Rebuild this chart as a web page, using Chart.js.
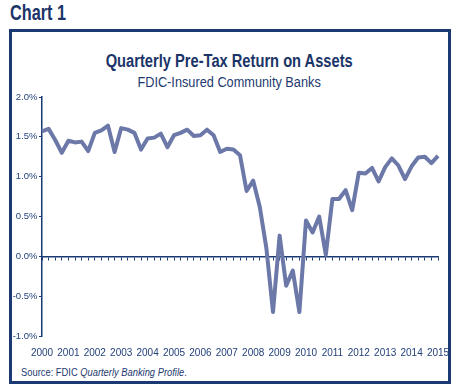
<!DOCTYPE html>
<html>
<head>
<meta charset="utf-8">
<script src="https://cdn.jsdelivr.net/npm/chart.js@4.4.0/dist/chart.umd.min.js"></script>
<style>
  body { margin: 0; background: #fff; font-family: "Liberation Sans", Arial, sans-serif; color: #1d3a6f; }
  #page { position: relative; width: 458px; height: 392px; overflow: hidden; }
  .chartno { position: absolute; left: 10px; top: 0px; font-size: 22px; font-weight: bold; color: #1b3568;
    transform: scaleX(0.74); transform-origin: left center; white-space: nowrap; }
  .frame { position: absolute; left: 9px; top: 29px; width: 436px; height: 349px; border: 3px solid #1b3a73; }
  .title { position: absolute; left: 0; width: 458px; top: 51px; text-align: center; font-size: 18px; font-weight: bold; color: #1b3568;
    transform: scaleX(0.815); transform-origin: 230px center; white-space: nowrap; }
  .subtitle { position: absolute; left: 0; width: 458px; top: 74px; text-align: center; font-size: 14px; color: #1d3a6f;
    transform: scaleX(0.91); transform-origin: 230px center; white-space: nowrap; }
  .source { position: absolute; left: 21px; top: 366px; font-size: 11px; color: #1d3a6f;
    transform: scaleX(0.85); transform-origin: left center; white-space: nowrap; }
  #wrap { position: absolute; left: 0; top: 0; width: 458px; height: 392px; }
</style>
</head>
<body>
<div id="page">
  <div class="chartno">Chart 1</div>
  <div class="frame"></div>
  <div class="title">Quarterly Pre-Tax Return on Assets</div>
  <div class="subtitle">FDIC-Insured Community Banks</div>
  <div class="source">Source: FDIC <i>Quarterly Banking Profile</i>.</div>
  <div id="wrap"><canvas id="roaChart"></canvas></div>
</div>
<script>
// quarters 2000 Q1 .. 2015 Q1
const years = ['2000', '2001', '2002', '2003', '2004', '2005', '2006', '2007',
  '2008', '2009', '2010', '2011', '2012', '2013', '2014', '2015'];
const quarters = [];
years.forEach(y => {
  ['Q1', 'Q2', 'Q3', 'Q4'].forEach(q => quarters.push(y + ' ' + q));
});
quarters.length = 61;

// pre-tax ROA, percent
const roa = [
  1.57, 1.60, 1.46, 1.30, 1.45, 1.43, 1.44, 1.32,
  1.55, 1.58, 1.64, 1.31, 1.61, 1.59, 1.55, 1.34,
  1.48, 1.49, 1.54, 1.37, 1.52, 1.55, 1.59, 1.51,
  1.52, 1.59, 1.52, 1.31, 1.35, 1.34, 1.27, 0.82,
  0.95, 0.62, 0.10, -0.70, 0.26, -0.37, -0.18, -0.70,
  0.45, 0.30, 0.50, 0.02, 0.72, 0.72, 0.83, 0.58,
  1.05, 1.04, 1.11, 0.94, 1.12, 1.23, 1.14, 0.97,
  1.13, 1.24, 1.25, 1.17, 1.26
];

const yTicks = [-1.0, -0.5, 0.0, 0.5, 1.0, 1.5, 2.0];

const navy = '#1b3a73';
const fontFamily = '"Liberation Sans", Arial, sans-serif';

const ctx = document.getElementById('roaChart').getContext('2d');

new Chart(ctx, {
  type: 'line',
  data: {
    labels: quarters,
    datasets: [{
      label: 'Pre-tax ROA',
      data: roa,
      borderColor: '#6b78a8',
      borderWidth: 4,
      borderJoinStyle: 'round',
      pointRadius: 0,
      tension: 0,
      fill: false
    }]
  },
  options: {
    responsive: true,
    maintainAspectRatio: false,
    animation: false,
    layout: {
      padding: { left: 0, right: 20, top: 97, bottom: 36 }
    },
    plugins: {
      legend: { display: false },
      tooltip: { enabled: false }
    },
    scales: {
      x: {
        type: 'category',
        position: 'bottom',
        offset: false,
        grid: { display: false },
        border: { display: false },
        ticks: {
          autoSkip: false,
          maxRotation: 0,
          padding: 3,
          color: '#24427a',
          font: { family: fontFamily, size: 10 },
          callback: (v, i) => (i % 4 === 0 ? years[i / 4] : '')
        },
        afterFit: (scale) => { scale.height = 20; }
      },
      x2: {
        type: 'category',
        axis: 'x',
        position: { y: 0 },
        offset: false,
        grid: { drawOnChartArea: false, drawTicks: true, tickLength: 3, color: navy, lineWidth: 1 },
        border: { display: true, color: navy, width: 1.5 },
        ticks: { display: false, autoSkip: false }
      },
      y: {
        min: -1,
        max: 2,
        afterBuildTicks: (scale) => { scale.ticks = yTicks.map(v => ({ value: v })); },
        grid: { drawOnChartArea: false, drawTicks: true, tickLength: 3, color: navy },
        border: { display: true, color: navy, width: 1.5 },
        ticks: {
          padding: 1.5,
          color: '#24427a',
          font: { family: fontFamily, size: 9.5 },
          callback: (v) => v.toFixed(1) + '%'
        },
        afterFit: (scale) => { scale.width = 42; }
      }
    }
  }
});
</script>
</body>
</html>
